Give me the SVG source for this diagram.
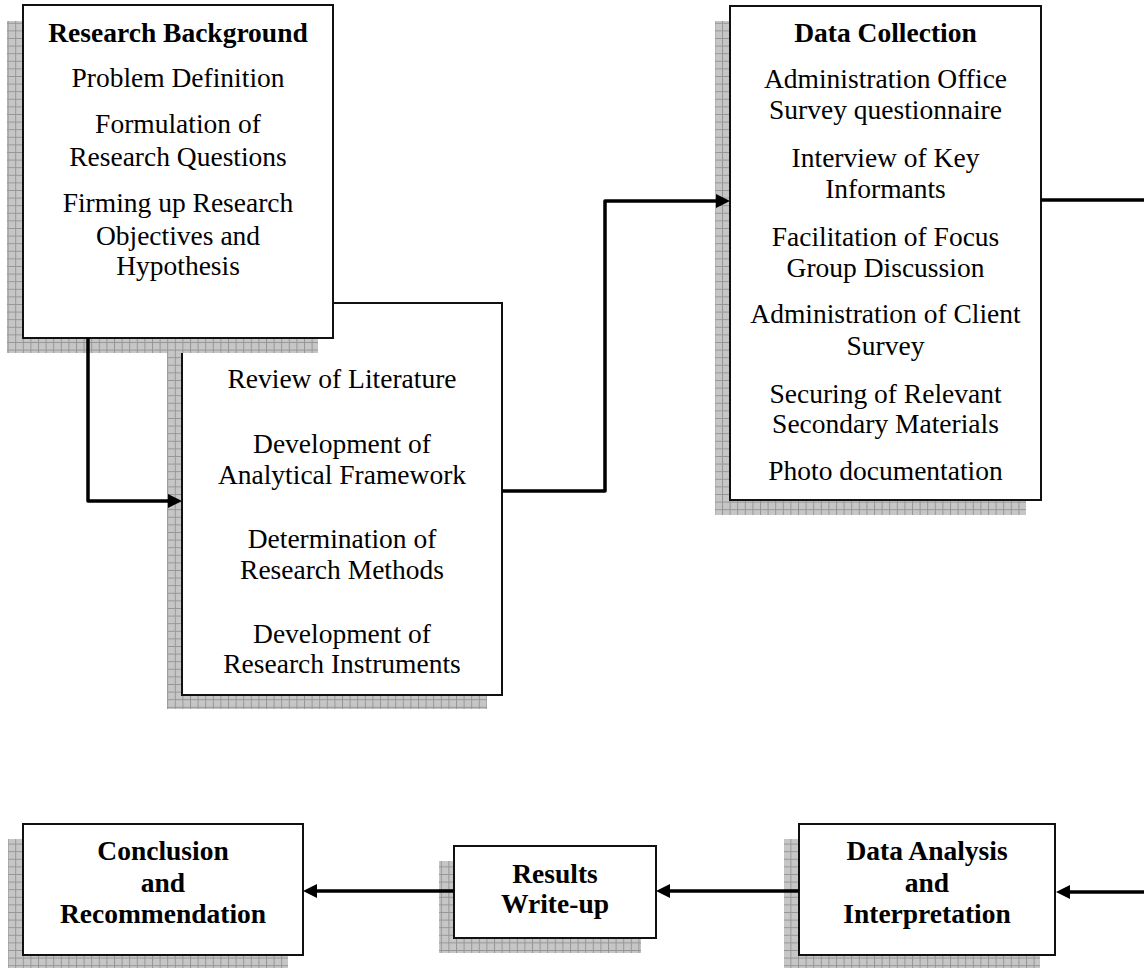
<svg xmlns="http://www.w3.org/2000/svg" width="1144" height="968" viewBox="0 0 1144 968">
  <style>
    .box { fill: #ffffff; stroke: #111111; stroke-width: 2; }
    .shadow { fill: url(#grid); }
    .t { font-family: "Liberation Serif", "Times New Roman", serif; font-size: 27.5px; fill: #000000; text-anchor: middle; }
    .b { font-weight: bold; }
    .wire { fill: none; stroke: #000000; stroke-width: 3.5; stroke-linejoin: round; }
  </style>
  <defs>
    <pattern id="grid" patternUnits="userSpaceOnUse" width="7.6" height="7.6">
      <rect width="7.6" height="7.6" fill="#c6c6c6"/>
      <path d="M0,0.5 H7.6 M0.5,0 V7.6" stroke="#969696" stroke-width="1"/>
    </pattern>
    <marker id="head" markerUnits="userSpaceOnUse" markerWidth="16" markerHeight="16" refX="7" refY="7" orient="auto">
      <path d="M0,0 L14,7 L0,14 Z" fill="#000000"/>
    </marker>
  </defs>

  <!-- Research design stage (drawn first so the background box overlaps it) -->
  <g id="design">
    <rect class="shadow" x="167" y="318" width="320" height="391"/>
    <rect class="box" x="182" y="303" width="320" height="392"/>
    <text class="t" x="342" y="388">Review of Literature</text>
    <text class="t" x="342" y="453">Development of</text>
    <text class="t" x="342" y="484">Analytical Framework</text>
    <text class="t" x="342" y="548">Determination of</text>
    <text class="t" x="342" y="579">Research Methods</text>
    <text class="t" x="342" y="643">Development of</text>
    <text class="t" x="342" y="673">Research Instruments</text>
  </g>

  <g id="background">
    <rect class="shadow" x="7" y="21" width="311" height="332"/>
    <rect class="box" x="23" y="5" width="310" height="333"/>
    <text class="t b" x="178" y="42">Research Background</text>
    <text class="t" x="178" y="87">Problem Definition</text>
    <text class="t" x="178" y="133">Formulation of</text>
    <text class="t" x="178" y="166">Research Questions</text>
    <text class="t" x="178" y="212">Firming up Research</text>
    <text class="t" x="178" y="245">Objectives and</text>
    <text class="t" x="178" y="275">Hypothesis</text>
  </g>

  <g id="collection">
    <rect class="shadow" x="715" y="21" width="311" height="494"/>
    <rect class="box" x="730" y="6" width="311" height="494"/>
    <text class="t b" x="885.5" y="42">Data Collection</text>
    <text class="t" x="885.5" y="88">Administration Office</text>
    <text class="t" x="885.5" y="119">Survey questionnaire</text>
    <text class="t" x="885.5" y="167">Interview of Key</text>
    <text class="t" x="885.5" y="198">Informants</text>
    <text class="t" x="885.5" y="246">Facilitation of Focus</text>
    <text class="t" x="885.5" y="277">Group Discussion</text>
    <text class="t" x="885.5" y="323">Administration of Client</text>
    <text class="t" x="885.5" y="355">Survey</text>
    <text class="t" x="885.5" y="403">Securing of Relevant</text>
    <text class="t" x="885.5" y="433">Secondary Materials</text>
    <text class="t" x="885.5" y="480">Photo documentation</text>
  </g>

  <g id="conclusion">
    <rect class="shadow" x="8" y="839" width="280" height="131"/>
    <rect class="box" x="23" y="824" width="280" height="131"/>
    <text class="t b" x="163" y="860">Conclusion</text>
    <text class="t b" x="163" y="892">and</text>
    <text class="t b" x="163" y="923">Recommendation</text>
  </g>

  <g id="results">
    <rect class="shadow" x="439" y="861" width="202" height="92"/>
    <rect class="box" x="454" y="846" width="202" height="92"/>
    <text class="t b" x="555" y="883">Results</text>
    <text class="t b" x="555" y="913">Write-up</text>
  </g>

  <g id="analysis">
    <rect class="shadow" x="784" y="839" width="256" height="131"/>
    <rect class="box" x="799" y="824" width="256" height="131"/>
    <text class="t b" x="927" y="860">Data Analysis</text>
    <text class="t b" x="927" y="892">and</text>
    <text class="t b" x="927" y="923">Interpretation</text>
  </g>

  <g id="connectors">
    <path class="wire" d="M88,338 V501 H175" marker-end="url(#head)"/>
    <path class="wire" d="M502,491 H605 V201 H723" marker-end="url(#head)"/>
    <path class="wire" d="M1041,200 H1144"/>
    <path class="wire" d="M1144,892 H1063" marker-end="url(#head)"/>
    <path class="wire" d="M799,891 H663" marker-end="url(#head)"/>
    <path class="wire" d="M454,891 H310" marker-end="url(#head)"/>
  </g>
</svg>
